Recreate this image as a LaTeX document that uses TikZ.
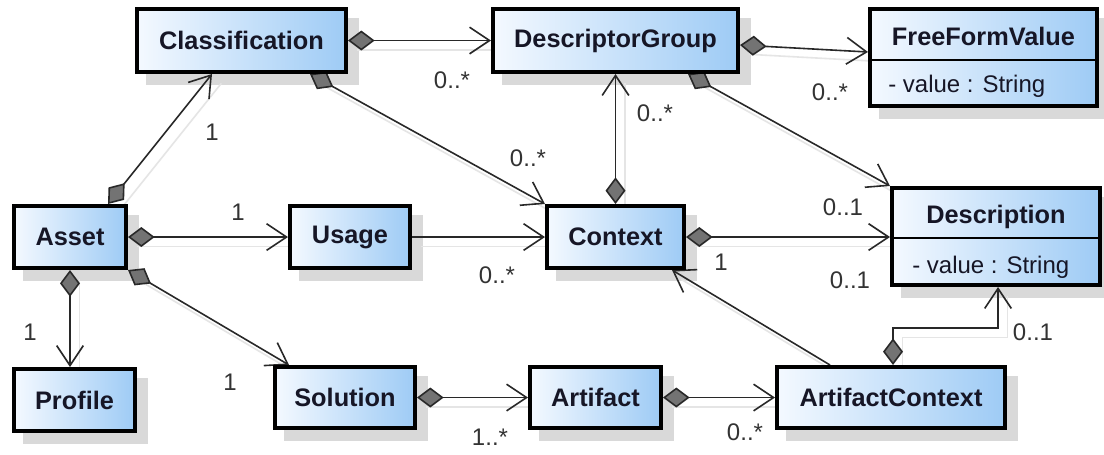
\documentclass[tikz,border=0pt]{standalone}
\usepackage{fontspec}
\setmainfont{Liberation Sans}
\usetikzlibrary{arrows.meta,calc}
\pgfdeclarelayer{background}
\pgfsetlayers{background,main}
\definecolor{boxleft}{RGB}{244,249,255}
\definecolor{boxright}{RGB}{158,203,245}
\definecolor{ink}{RGB}{22,22,38}
\definecolor{linecol}{RGB}{40,40,40}
\tikzset{
  umlclass/.style={draw=black, line width=3pt, anchor=north west, inner sep=0pt,
    left color=boxleft, right color=boxright,
    font=\bfseries\fontsize{19}{22}\selectfont, text=ink},
  mult/.style={font=\fontsize{18}{20}\selectfont, text=black!80, inner sep=0pt},
  attr/.style={font=\fontsize{18}{20}\selectfont, text=ink, inner sep=0pt, anchor=base west},
  ctitle/.style={font=\bfseries\fontsize{19}{22}\selectfont, text=ink, inner sep=0pt, anchor=base},
  conn/.style={draw=linecol, line width=1.2pt,
    preaction={draw=black!10, line width=1.2pt, -, transform canvas={shift={(7pt,-7pt)}}}},
  comp/.style={conn, {Diamond[length=20pt,width=15pt,fill=black!55]}-{Straight Barb[length=15pt,width=20pt]}},
  assoc/.style={conn, -{Straight Barb[length=15pt,width=20pt]}},
}
\begin{document}
\begin{tikzpicture}[x=0.75pt,y=-0.75pt]
\useasboundingbox (0,0) rectangle (1104,454);

% classes
\node[umlclass, minimum width=156.75pt, minimum height=47.25pt] (cls) at (135,7) {Classification};
\node[umlclass, minimum width=183.75pt, minimum height=47.25pt] (dg) at (491,7) {DescriptorGroup};
\node[umlclass, minimum width=170.25pt, minimum height=72.75pt] (ffv) at (868,7) {};
\node[umlclass, minimum width=156pt, minimum height=72.75pt] (desc) at (890,186) {};
\node[umlclass, minimum width=84pt, minimum height=46.5pt] (asset) at (12,204) {Asset};
\node[umlclass, minimum width=90pt, minimum height=46.5pt] (usage) at (288,204) {Usage};
\node[umlclass, minimum width=102.75pt, minimum height=46.5pt] (ctx) at (545,204) {Context};
\node[umlclass, minimum width=90.75pt, minimum height=46.5pt] (prof) at (12,367) {Profile};
\node[umlclass, minimum width=105pt, minimum height=45.75pt] (sol) at (273,365) {Solution};
\node[umlclass, minimum width=98.25pt, minimum height=45.75pt] (art) at (528,365) {Artifact};
\node[umlclass, minimum width=171pt, minimum height=45.75pt] (ac) at (775,365) {ArtifactContext};

% compartments of the classes with attributes
\draw[line width=1.5pt] (ffv.west |- 0,60) -- (ffv.east |- 0,60);
\node[ctitle] (ffvname) at (983.5,45) {FreeFormValue};
\node[attr] (ffvattr) at (888,92) {- value : String};
\draw[line width=1.5pt] (desc.west |- 0,238) -- (desc.east |- 0,238);
\node[ctitle] (descname) at (996,223) {Description};
\node[attr] (descattr) at (912,273) {- value : String};

% multiplicities
\node[mult] (m1) at (452,80) {0..*};
\node[mult] (m2) at (528,158) {0..*};
\node[mult] (m3) at (655,113) {0..*};
\node[mult] (m4) at (212,132) {1};
\node[mult] (m5) at (830,92) {0..*};
\node[mult] (m6) at (843,207) {0..1};
\node[mult] (m7) at (850,280) {0..1};
\node[mult] (m8) at (1033,332) {0..1};
\node[mult] (m9) at (721,262) {1};
\node[mult] (m10) at (497,275) {0..*};
\node[mult] (m11) at (238,212) {1};
\node[mult] (m12) at (30,332) {1};
\node[mult] (m13) at (230,382) {1};
\node[mult] (m14) at (490,437) {1..*};
\node[mult] (m15) at (745,432) {0..*};

\begin{pgfonlayer}{background}
  \fill[white] (0,0) rectangle (1104,454);
  % box shadows
  \foreach \n in {cls,dg,ffv,desc,asset,usage,ctx,prof,sol,art,ac}
    \fill[black!15] ($(\n.north west)+(11,11)$) rectangle ($(\n.south east)+(11,11)$);
  % associations
  \draw[comp] (cls.east) -- (dg.west);
  \draw[comp] ($(cls.south east)+(-38,0)$) -- (ctx.north west);
  \draw[comp] ($(asset.north east)+(-20,0)$) -- ($(cls.south west)+(77,0)$);
  \draw[comp] ($(dg.north east)+(0,38)$) -- ($(ffv.north west)+(0,45)$);
  \draw[comp] ($(dg.south east)+(-52,0)$) -- (desc.north west);
  \draw[comp] (ctx.north) -- (dg.south);
  \draw[comp] (asset.east) -- (usage.west);
  \draw[assoc] (usage.east) -- (ctx.west);
  \draw[comp] (ctx.east) -- (ctx.east -| desc.west);
  \draw[comp] (asset.south) -- (asset.south |- prof.north);
  \draw[comp] (asset.south east) -- ($(sol.north west)+(16,0)$);
  \draw[comp] (sol.east) -- (art.west);
  \draw[comp] (art.east) -- (ac.west);
  \draw[assoc] ($(ac.north west)+(55,0)$) -- ($(ctx.south east)+(-14,0)$);
  \draw[comp] ($(ac.north west)+(118,0)$) |- ($(desc.south west)+(108,41)$) -- ($(desc.south west)+(108,0)$);
\end{pgfonlayer}
\end{tikzpicture}
\end{document}
